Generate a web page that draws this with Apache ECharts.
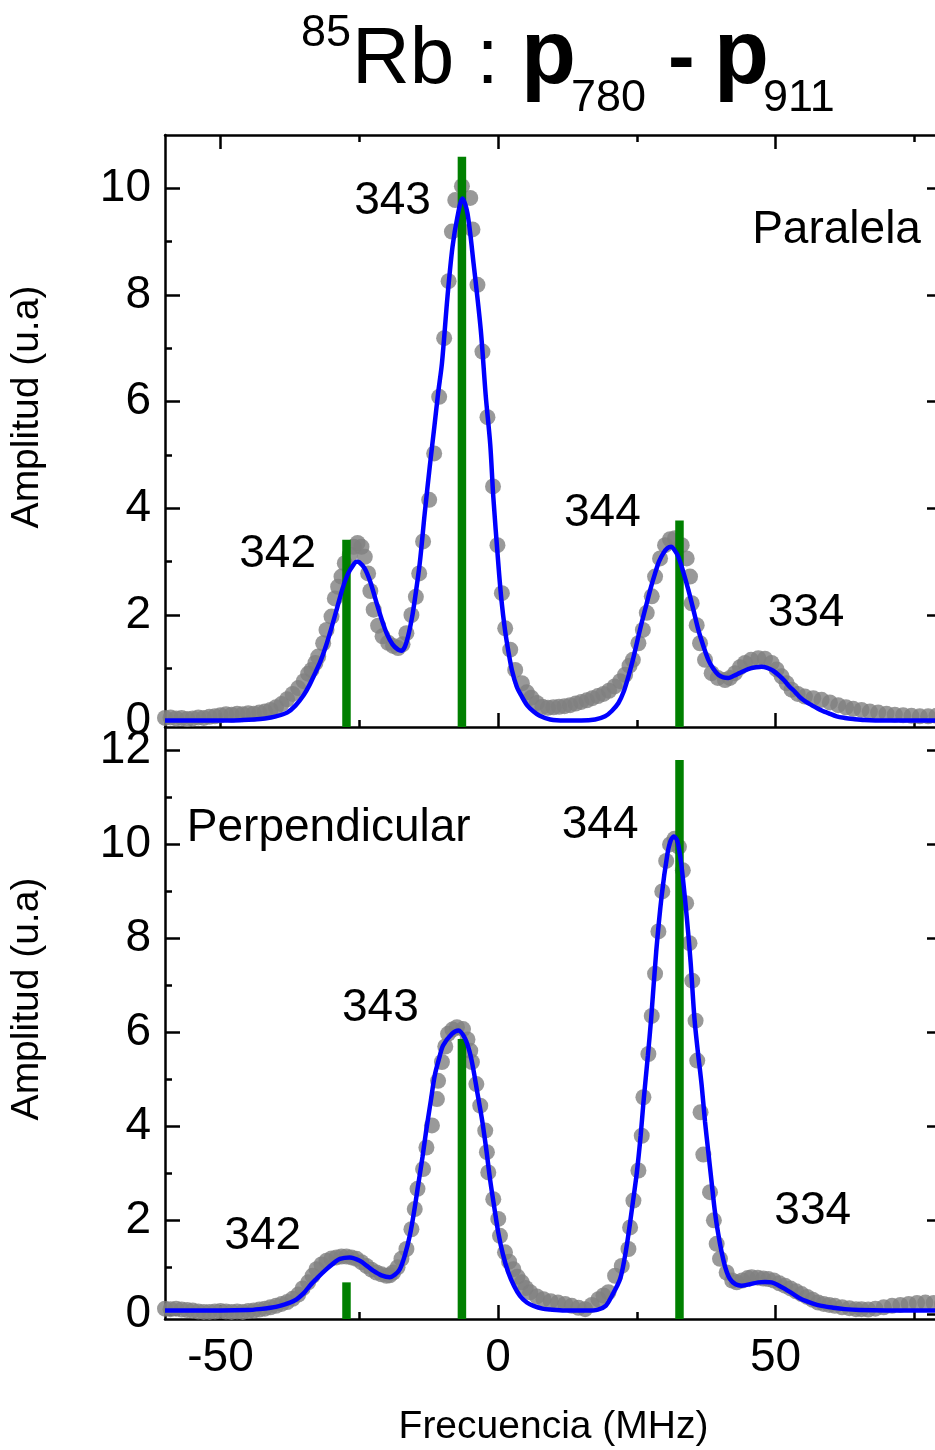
<!DOCTYPE html>
<html>
<head>
<meta charset="utf-8">
<script src="https://cdn.jsdelivr.net/npm/echarts@6.0.0/dist/echarts.min.js"></script>
<style>
html,body{margin:0;padding:0;overflow:hidden;background:#fff;}
#chart{width:950px;height:1450px;}
</style>
</head>
<body>
<div id="chart"></div>
<script>
// ---------------- DATA ----------------
// Upper panel (Paralela): measured points [MHz, amplitude]
const topMeasured = [
[-60,0.07],[-59,0.08],[-58,0.06],[-57,0.07],[-56,0.05],[-55,0.06],[-54,0.08],[-53,0.07],[-52,0.09],[-51,0.10],
[-50,0.12],[-49,0.14],[-48,0.13],[-47,0.15],[-46,0.14],[-45,0.16],[-44,0.15],[-43,0.17],[-42,0.19],[-41,0.22],
[-40,0.27],[-39,0.33],[-38,0.42],[-37,0.52],[-36,0.63],[-35,0.76],[-34.2,0.90],[-33.6,0.97],[-32.9,1.10],[-32.4,1.22],
[-31.5,1.47],[-30.9,1.72],[-30.0,1.97],[-29.4,2.31],[-28.8,2.53],[-28.2,2.72],[-27.6,2.97],[-26.7,3.13],[-26.0,3.28],[-25.3,3.35],
[-24.6,3.28],[-24.0,3.09],[-23.4,2.78],[-23.0,2.45],[-22.4,2.10],[-21.6,1.80],[-20.8,1.60],[-19.8,1.48],[-18.9,1.42],[-18.0,1.38],
[-17.2,1.45],[-16.5,1.66],[-15.6,2.00],[-14.8,2.34],[-14.2,2.78],[-13.5,3.38],[-12.4,4.16],[-11.5,5.03],[-10.6,6.09],[-9.7,7.19],
[-8.9,8.26],[-8.3,9.19],[-7.7,9.78],[-6.5,10.04],[-5.0,9.82],[-4.6,9.23],[-3.7,8.19],[-2.8,6.94],[-1.9,5.71],[-0.9,4.41],
[-0.1,3.31],[0.7,2.41],[1.3,1.75],[2.2,1.35],[3.1,0.97],[4.3,0.72],[5.2,0.55],[6.0,0.45],[7.0,0.35],[8.0,0.28],
[9.0,0.26],[10.0,0.27],[11.0,0.28],[12.0,0.29],[13.0,0.31],[14.0,0.34],[15.0,0.37],[16.0,0.40],[17.0,0.44],[18.0,0.48],
[19.0,0.52],[20.0,0.58],[21.0,0.66],[22.0,0.76],[22.9,0.88],[23.7,1.05],[24.3,1.16],[25.3,1.47],[26.1,1.72],[26.8,2.04],
[27.7,2.35],[28.3,2.72],[29.2,3.06],[30.1,3.31],[31.0,3.42],[31.9,3.44],[33.1,3.31],[34.0,3.06],[34.6,2.72],[34.9,2.22],
[35.8,1.81],[36.4,1.47],[37.3,1.16],[38.5,0.91],[39.6,0.82],[40.9,0.78],[41.8,0.82],[42.7,0.91],[43.6,1.02],[44.5,1.10],
[45.6,1.16],[46.9,1.19],[48.1,1.18],[49.3,1.10],[50.2,0.98],[51.1,0.85],[52.0,0.72],[52.9,0.60],[54.0,0.52],[55.3,0.47],
[56.8,0.44],[58.3,0.41],[59.8,0.36],[61.3,0.31],[62.7,0.27],[64.0,0.24],[65.5,0.22],[67.0,0.19],[68.5,0.17],[70.0,0.15],
[71.5,0.13],[73.0,0.12],[74.5,0.11],[76.0,0.10],[77.5,0.10],[79.0,0.11]
];
// Upper panel: fitted curve
const topFit = [
[-60,0.02],[-55,0.02],[-50,0.02],[-46,0.03],[-44,0.04],[-42,0.06],[-40,0.10],[-38,0.17],[-36.5,0.30],[-35,0.50],
[-34,0.68],[-33,0.90],[-32,1.13],[-31,1.42],[-30,1.76],[-29,2.13],[-28,2.50],[-27,2.78],[-26,2.95],[-25.5,3.00],
[-25,2.99],[-24,2.87],[-23,2.62],[-22,2.27],[-21,1.93],[-20,1.64],[-19,1.45],[-18,1.35],[-17.4,1.33],[-16.8,1.40],
[-16.2,1.60],[-15.5,1.95],[-15.0,2.28],[-14.1,2.97],[-13.2,3.91],[-12.3,4.78],[-11.5,5.50],[-10.8,6.15],[-10.1,6.72],[-9.1,7.97],
[-8.2,8.90],[-7.3,9.47],[-6.4,9.81],[-5.5,9.53],[-4.4,8.59],[-3.1,7.34],[-2.2,6.10],[-1.4,5.20],[-0.85,4.22],[0.05,2.97],
[0.6,2.30],[1.26,1.72],[1.9,1.30],[2.5,0.97],[3.4,0.65],[4.3,0.47],[5.3,0.30],[6.4,0.19],[7.5,0.11],[9.4,0.04],
[12,0.02],[15,0.02],[17.5,0.04],[19.3,0.10],[20.5,0.20],[21.7,0.35],[22.6,0.55],[23.5,0.85],[24.4,1.20],[25.3,1.60],
[26.0,1.90],[26.8,2.22],[27.5,2.50],[28.3,2.78],[29.0,3.00],[29.8,3.16],[30.5,3.25],[31.2,3.28],[31.8,3.22],[32.5,3.09],
[33.4,2.80],[34.3,2.47],[35.2,2.10],[36.1,1.72],[37.0,1.42],[37.9,1.16],[38.8,0.99],[39.7,0.88],[40.6,0.83],[41.5,0.82],
[42.5,0.86],[43.5,0.91],[44.5,0.96],[45.5,1.00],[46.5,1.02],[47.5,1.03],[48.5,1.01],[49.5,0.96],[50.5,0.88],[51.5,0.78],
[52.5,0.66],[53.5,0.56],[54.5,0.45],[55.5,0.37],[56.5,0.31],[57.5,0.25],[58.5,0.20],[59.5,0.16],[61,0.10],[62.5,0.07],
[64,0.05],[66,0.03],[70,0.02],[75,0.02],[80,0.02]
];
// Upper panel: transition lines (position, strength)
const topLines = [[-27.3,3.41],[-6.5,10.59],[32.7,3.77]];
const topLabels = [
  {name:'343', value:[-19.0,9.75]},
  {name:'Paralela', value:[61.0,9.22]},
  {name:'342', value:[-39.7,3.14]},
  {name:'344', value:[18.8,3.90]},
  {name:'334', value:[55.5,2.03]}
];

// Lower panel (Perpendicular): measured points
const bottomMeasured = [
[-60,0.12],[-59,0.11],[-58,0.12],[-57,0.10],[-56,0.09],[-55,0.08],[-54,0.06],[-53,0.05],[-52,0.05],[-51,0.06],
[-50,0.07],[-49,0.06],[-48,0.05],[-47,0.06],[-46,0.05],[-45,0.07],[-44,0.08],[-43,0.10],[-42,0.12],[-41,0.15],
[-40,0.18],[-39,0.22],[-38,0.26],[-37,0.33],[-36,0.42],[-35.2,0.55],[-34.2,0.68],[-33.4,0.82],[-32.7,0.96],[-31.8,1.06],
[-30.9,1.14],[-30.0,1.19],[-29.1,1.21],[-28.2,1.23],[-27.3,1.23],[-26.4,1.21],[-25.5,1.18],[-24.6,1.11],[-23.7,1.03],[-22.8,0.95],
[-21.9,0.89],[-21.0,0.85],[-20.1,0.82],[-19.5,0.83],[-18.9,0.89],[-18.1,1.00],[-17.4,1.18],[-16.5,1.39],[-15.6,1.81],[-15.0,2.24],
[-14.5,2.67],[-13.5,3.09],[-12.9,3.55],[-11.9,4.02],[-11.0,4.58],[-10.8,4.97],[-10.1,5.37],[-9.5,5.70],[-9.0,5.97],[-8.2,6.06],
[-7.4,6.11],[-6.3,6.07],[-5.5,5.85],[-5.0,5.61],[-4.7,5.37],[-3.9,4.90],[-3.2,4.44],[-2.3,3.91],[-2.0,3.45],[-1.75,3.02],
[-0.85,2.45],[0.05,2.03],[0.36,1.67],[1.26,1.32],[2.0,1.12],[2.76,0.96],[3.5,0.80],[4.3,0.68],[5.0,0.56],[5.8,0.47],
[7.0,0.38],[8.2,0.32],[9.5,0.28],[10.8,0.25],[12.1,0.22],[13.3,0.18],[14.5,0.14],[15.7,0.11],[16.9,0.20],[18.1,0.32],
[19.0,0.40],[19.9,0.47],[21.1,0.82],[22.3,1.03],[23.5,1.39],[23.8,1.85],[24.4,2.42],[25.3,3.06],[25.9,3.80],[26.2,4.62],
[27.1,5.54],[27.7,6.35],[28.3,7.25],[28.9,8.15],[29.6,9.00],[30.3,9.65],[31.0,10.00],[31.8,10.12],[32.6,9.95],[33.3,9.45],
[33.9,8.75],[34.5,7.90],[35.0,7.10],[35.6,6.25],[35.9,5.40],[36.5,4.30],[37.0,3.40],[38.2,2.60],[38.9,2.00],[39.4,1.50],
[40.0,1.18],[41.2,0.89],[42.2,0.72],[43.0,0.68],[44.0,0.72],[45.0,0.77],[45.7,0.79],[46.8,0.78],[47.8,0.76],[48.7,0.75],
[49.7,0.72],[50.7,0.66],[51.7,0.61],[52.7,0.55],[53.7,0.49],[54.7,0.43],[55.7,0.37],[56.7,0.31],[57.7,0.25],[58.7,0.22],
[59.7,0.20],[60.7,0.18],[62.0,0.15],[63.3,0.13],[64.5,0.11],[65.5,0.11],[66.7,0.10],[68.0,0.12],[69.5,0.15],[71.0,0.18],
[72.5,0.20],[74.0,0.22],[75.5,0.24],[77.0,0.25],[78.5,0.24],[80,0.22]
];
// Lower panel: fitted curve
const bottomFit = [
[-60,0.08],[-50,0.08],[-45,0.09],[-43,0.11],[-41,0.14],[-39.3,0.18],[-37.5,0.25],[-36.3,0.32],[-35,0.45],[-33.9,0.61],
[-32.5,0.78],[-30.9,0.96],[-29.5,1.10],[-28.5,1.18],[-26.7,1.21],[-24.9,1.14],[-23.5,1.02],[-22.5,0.93],[-21,0.83],[-19.5,0.79],
[-18.6,0.84],[-17.7,0.96],[-16.8,1.25],[-15.9,1.67],[-15.1,2.20],[-14.4,2.74],[-13.6,3.35],[-12.9,3.94],[-12.1,4.55],[-11.4,5.08],
[-10.6,5.45],[-9.9,5.72],[-8.3,5.97],[-7.1,6.04],[-5.9,5.86],[-5.1,5.58],[-4.45,5.22],[-3.7,4.70],[-2.9,4.16],[-2.1,3.50],
[-1.44,2.88],[-0.7,2.30],[0.05,1.74],[0.9,1.27],[1.86,0.89],[2.9,0.60],[3.96,0.39],[5.2,0.25],[6.4,0.18],[8,0.12],
[9.4,0.10],[12,0.08],[16,0.08],[18,0.10],[19.4,0.18],[20.5,0.39],[22.0,0.75],[22.9,1.25],[23.5,1.70],[24.2,2.30],
[25.0,3.00],[25.7,3.80],[26.2,4.50],[27.0,5.50],[27.6,6.30],[28.5,7.71],[29.5,8.92],[30.5,9.78],[31.1,10.08],[31.7,10.17],
[32.3,10.08],[33.0,9.60],[34.0,8.47],[34.7,7.50],[35.4,6.29],[36.0,5.60],[36.7,4.87],[37.3,4.10],[37.9,3.45],[38.5,2.80],
[39.1,2.17],[39.7,1.70],[40.3,1.32],[41.0,0.98],[41.8,0.75],[42.8,0.64],[43.9,0.61],[45.4,0.64],[46.9,0.68],[48.1,0.69],
[49.3,0.68],[50.5,0.62],[51.7,0.54],[53.2,0.43],[54.7,0.32],[56.5,0.24],[58.3,0.18],[60.4,0.14],[62.5,0.11],[65,0.09],
[70,0.08],[80,0.08]
];
const bottomLines = [[-27.3,0.68],[-6.5,5.86],[32.7,11.8]];
const bottomLabels = [
  {name:'Perpendicular', value:[-30.5,10.35]},
  {name:'344', value:[18.4,10.4]},
  {name:'343', value:[-21.2,6.51]},
  {name:'342', value:[-42.4,1.67]},
  {name:'334', value:[56.7,2.20]}
];

// Ticks / labels
const xMajorTicks = [-50, 0, 50];
const xMinorTicks = [-25, 25, 75];
const topYMajor = [0, 2, 4, 6, 8, 10];
const topYMinor = [1, 3, 5, 7, 9];
const bottomYMajor = [0, 2, 4, 6, 8, 10, 12];
const bottomYMinor = [1, 3, 5, 7, 9, 11];

// ---------------- CHART ----------------
const FONT = '"Liberation Sans", Arial, Helvetica, sans-serif';
const X_MIN = -60, X_MAX = 80;
const TOP_Y = [-0.1, 11];
const BOT_Y = [-0.1, 12.5];
const AXIS_W = 2.5;

function xAx(grid, pos, ticks, len, line, extra) {
  return Object.assign({
    type: 'value', gridIndex: grid, position: pos, min: X_MIN, max: X_MAX,
    axisLine: {show: line, onZero: false, lineStyle: {color: '#000', width: AXIS_W}},
    axisTick: {show: true, inside: true, length: len, customValues: ticks, lineStyle: {color: '#000', width: AXIS_W}},
    axisLabel: {show: false}, splitLine: {show: false}, minorTick: {show: false}
  }, extra || {});
}
function yAx(grid, pos, range, ticks, len, line, extra) {
  return Object.assign({
    type: 'value', gridIndex: grid, position: pos, min: range[0], max: range[1],
    axisLine: {show: line, onZero: false, lineStyle: {color: '#000', width: AXIS_W}},
    axisTick: {show: true, inside: true, length: len, customValues: ticks, lineStyle: {color: '#000', width: AXIS_W}},
    axisLabel: {show: false}, splitLine: {show: false}, minorTick: {show: false}
  }, extra || {});
}
const yLabelStyle = (vals) => ({show: true, customValues: vals, fontSize: 46, fontFamily: FONT, color: '#000', margin: 14});

function stickSeries(data, xi, yi, ymin) {
  return {
    type: 'custom', xAxisIndex: xi, yAxisIndex: yi, data: data, z: 3, silent: true,
    renderItem: function (params, api) {
      const x = api.value(0), h = api.value(1);
      const p0 = api.coord([x, ymin]);
      const p1 = api.coord([x, h]);
      const w = 8.5;
      return {type: 'rect', shape: {x: p0[0] - w / 2, y: p1[1], width: w, height: p0[1] - p1[1]},
              style: {fill: '#008000'}};
    }
  };
}
function labelSeries(data, xi, yi) {
  return {
    type: 'scatter', xAxisIndex: xi, yAxisIndex: yi, data: data, symbolSize: 2, z: 10, silent: true,
    itemStyle: {color: 'rgba(255,255,255,0)'},
    label: {show: true, position: 'inside', formatter: '{b}', fontSize: 46, fontFamily: FONT, color: '#000',
            textBorderWidth: 0, textBorderColor: 'rgba(0,0,0,0)', opacity: 1,
            align: 'center', verticalAlign: 'middle'},
    labelLayout: {hideOverlap: false}
  };
}

const chart = echarts.init(document.getElementById('chart'), null, {renderer: 'canvas'});
const option = {
  animation: false,
  backgroundColor: '#fff',
  grid: [
    {left: 165, top: 135, width: 777, height: 592, outerBoundsMode: 'none', containLabel: false},
    {left: 165, top: 727, width: 777, height: 592, outerBoundsMode: 'none', containLabel: false}
  ],
  xAxis: [
    xAx(0, 'bottom', xMajorTicks, 14, true),
    xAx(0, 'bottom', xMinorTicks, 7, false),
    xAx(0, 'top', xMajorTicks, 14, true),
    xAx(0, 'top', xMinorTicks, 7, false),
    xAx(1, 'bottom', xMajorTicks, 14, true, {
      axisLabel: {show: true, customValues: xMajorTicks, fontSize: 46, fontFamily: FONT, color: '#000', margin: 16},
      name: 'Frecuencia (MHz)', nameLocation: 'middle', nameGap: 89,
      nameTextStyle: {fontSize: 39, fontFamily: FONT, color: '#000'}
    }),
    xAx(1, 'bottom', xMinorTicks, 7, false)
  ],
  yAxis: [
    yAx(0, 'left', TOP_Y, topYMajor, 15, true, {axisLabel: yLabelStyle(topYMajor)}),
    yAx(0, 'left', TOP_Y, topYMinor, 7, false),
    yAx(0, 'right', TOP_Y, topYMajor, 15, true),
    yAx(0, 'right', TOP_Y, topYMinor, 7, false),
    yAx(1, 'left', BOT_Y, bottomYMajor, 15, true, {axisLabel: yLabelStyle(bottomYMajor)}),
    yAx(1, 'left', BOT_Y, bottomYMinor, 7, false),
    yAx(1, 'right', BOT_Y, bottomYMajor, 15, true),
    yAx(1, 'right', BOT_Y, bottomYMinor, 7, false)
  ],
  series: [
    {type: 'scatter', xAxisIndex: 0, yAxisIndex: 0, data: topMeasured, symbol: 'circle', symbolSize: 16,
     itemStyle: {color: '#808080'}, z: 2, silent: true},
    stickSeries(topLines, 0, 0, TOP_Y[0]),
    {type: 'line', xAxisIndex: 0, yAxisIndex: 0, data: topFit, showSymbol: false, smooth: 0.3,
     lineStyle: {color: '#0000ff', width: 4.5}, z: 5, silent: true},
    labelSeries(topLabels, 0, 0),

    {type: 'scatter', xAxisIndex: 4, yAxisIndex: 4, data: bottomMeasured, symbol: 'circle', symbolSize: 16,
     itemStyle: {color: '#808080'}, z: 2, silent: true},
    stickSeries(bottomLines, 4, 4, BOT_Y[0]),
    {type: 'line', xAxisIndex: 4, yAxisIndex: 4, data: bottomFit, showSymbol: false, smooth: 0.3,
     lineStyle: {color: '#0000ff', width: 4.5}, z: 5, silent: true},
    labelSeries(bottomLabels, 4, 4)
  ],
  graphic: [
    {type: 'text', x: 301, y: 34, silent: true,
     style: {text: '85', fontSize: 45, fontFamily: FONT, fill: '#000', align: 'left', verticalAlign: 'middle'}},
    {type: 'text', x: 352, y: 61, silent: true,
     style: {text: 'Rb :', fontSize: 80, fontFamily: FONT, fill: '#000', align: 'left', verticalAlign: 'middle'}},
    {type: 'text', x: 521, y: 58, silent: true,
     style: {text: 'p', fontSize: 90, fontWeight: 'bold', fontFamily: FONT, fill: '#000', align: 'left', verticalAlign: 'middle'}},
    {type: 'text', x: 571, y: 99, silent: true,
     style: {text: '780', fontSize: 45, fontFamily: FONT, fill: '#000', align: 'left', verticalAlign: 'middle'}},
    {type: 'text', x: 668, y: 61, silent: true,
     style: {text: '-', fontSize: 80, fontWeight: 'bold', fontFamily: FONT, fill: '#000', align: 'left', verticalAlign: 'middle'}},
    {type: 'text', x: 714, y: 58, silent: true,
     style: {text: 'p', fontSize: 90, fontWeight: 'bold', fontFamily: FONT, fill: '#000', align: 'left', verticalAlign: 'middle'}},
    {type: 'text', x: 763, y: 99, silent: true,
     style: {text: '911', fontSize: 45, fontFamily: FONT, fill: '#000', align: 'left', verticalAlign: 'middle'}},
    {type: 'text', x: 27, y: 407, rotation: Math.PI / 2, silent: true,
     style: {text: 'Amplitud (u.a)', fontSize: 39, fontFamily: FONT, fill: '#000', align: 'center', verticalAlign: 'middle'}},
    {type: 'text', x: 27, y: 999, rotation: Math.PI / 2, silent: true,
     style: {text: 'Amplitud (u.a)', fontSize: 39, fontFamily: FONT, fill: '#000', align: 'center', verticalAlign: 'middle'}}
  ]
};
chart.setOption(option);
</script>
</body>
</html>
